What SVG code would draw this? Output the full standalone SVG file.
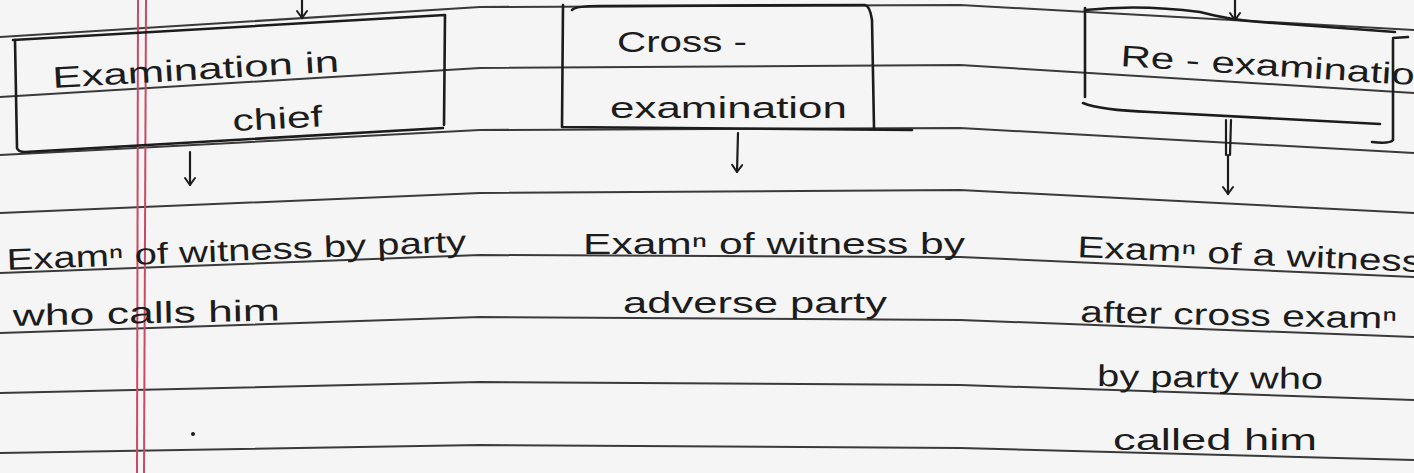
<svg xmlns="http://www.w3.org/2000/svg" width="1414" height="473" viewBox="0 0 1414 473">
<defs>
<marker id="ah" viewBox="0 0 12 12" refX="11" refY="6" markerWidth="12" markerHeight="12" markerUnits="userSpaceOnUse" orient="auto">
<path d="M4,1 L11,6 L4,11" fill="none" stroke="#1c1c1c" stroke-width="2" stroke-linecap="round" stroke-linejoin="round"/>
</marker>
<style>
.rule{fill:none;stroke:#3a3a3a;stroke-width:2}
.margin{fill:none;stroke:#c94a66;stroke-width:2}
.box{fill:none;stroke:#1c1c1c;stroke-width:2.6;stroke-linecap:round;stroke-linejoin:round}
.conn{fill:none;stroke:#1c1c1c;stroke-width:2.2;stroke-linecap:round}
.t{font-family:"Liberation Sans",Arial,sans-serif;fill:#1c1c1c;font-size:30px}
</style>
</defs>
<rect width="1414" height="473" fill="#f6f5f5"/>
<g id="paper">
<polyline class="rule" points="0,37 480,7 960,5 1414,30"/>
<polyline class="rule" points="0,97 480,68 960,65 1414,93"/>
<polyline class="rule" points="0,155 480,130 960,128 1414,153"/>
<polyline class="rule" points="0,213 480,193 960,190 1414,213"/>
<polyline class="rule" points="0,273 480,255 960,257 1414,277"/>
<polyline class="rule" points="0,333 480,317 960,320 1414,337"/>
<polyline class="rule" points="0,393 480,382 960,385 1414,400"/>
<polyline class="rule" points="0,453 480,445 960,448 1414,460"/>
<line class="margin" x1="138" y1="0" x2="137" y2="473"/>
<line class="margin" x1="146" y1="0" x2="144" y2="473"/>
</g>
<g id="node-chief">
<path class="box" d="M15,40 L17,148 Q18,152 25,152 L443,128"/>
<path class="box" d="M13,40 L445,15 L444,125"/>
<text class="t" x="53" y="88" textLength="287" lengthAdjust="spacingAndGlyphs" transform="rotate(-3.3 53 88)">Examination in</text>
<text class="t" x="233" y="131" textLength="90" lengthAdjust="spacingAndGlyphs" transform="rotate(-3 233 131)">chief</text>
</g>
<g id="node-cross">
<path class="box" d="M563,5 L562,127 L912,130"/>
<path class="box" d="M572,10 Q575,6 600,6 L865,5 Q870,6 872,20 L874,128"/>
<text class="t" x="617" y="52" textLength="130" lengthAdjust="spacingAndGlyphs">Cross -</text>
<text class="t" x="610" y="118" textLength="237" lengthAdjust="spacingAndGlyphs">examination</text>
</g>
<g id="node-reexam">
<path class="box" d="M1085,8 L1085,97"/>
<path class="box" d="M1085,10 Q1140,4 1200,12 Q1230,20 1260,22 L1395,32"/>
<path class="box" d="M1083,103 Q1100,110 1150,112 L1380,124"/>
<path class="box" d="M1393,38 L1408,37 M1393,40 L1393,140 Q1390,144 1372,142"/>
<text class="t" x="1120" y="66" textLength="318" lengthAdjust="spacingAndGlyphs" transform="rotate(3.7 1120 66)">Re - examination</text>
</g>
<g id="desc-chief">
<text class="t" x="7" y="270" textLength="460" lengthAdjust="spacingAndGlyphs" transform="rotate(-2.3 7 270)">Examⁿ of witness by party</text>
<text class="t" x="13" y="326" textLength="267" lengthAdjust="spacingAndGlyphs" transform="rotate(-1.2 13 326)">who calls him</text>
<circle cx="193" cy="434" r="2" fill="#1c1c1c"/>
</g>
<g id="desc-cross">
<text class="t" x="583" y="254" textLength="382" lengthAdjust="spacingAndGlyphs">Examⁿ of witness by</text>
<text class="t" x="623" y="313" textLength="264" lengthAdjust="spacingAndGlyphs">adverse party</text>
</g>
<g id="desc-reexam">
<text class="t" x="1077" y="257" textLength="345" lengthAdjust="spacingAndGlyphs" transform="rotate(2.5 1077 257)">Examⁿ of a witness</text>
<text class="t" x="1080" y="322" textLength="317" lengthAdjust="spacingAndGlyphs" transform="rotate(1.2 1080 322)">after cross examⁿ</text>
<text class="t" x="1097" y="386" textLength="226" lengthAdjust="spacingAndGlyphs" transform="rotate(0.8 1097 386)">by party who</text>
<text class="t" x="1113" y="450" textLength="204" lengthAdjust="spacingAndGlyphs">called him</text>
</g>
<g id="connectors">
<line class="conn" x1="302" y1="0" x2="302" y2="18" marker-end="url(#ah)"/>
<line class="conn" x1="1235" y1="0" x2="1235" y2="20" marker-end="url(#ah)"/>
<line class="conn" x1="190" y1="152" x2="190" y2="185" marker-end="url(#ah)"/>
<line class="conn" x1="738" y1="133" x2="737" y2="172" marker-end="url(#ah)"/>
<line class="conn" x1="1226" y1="120" x2="1226" y2="155"/>
<line class="conn" x1="1231" y1="120" x2="1230" y2="155"/>
<line class="conn" x1="1228" y1="155" x2="1228" y2="194" marker-end="url(#ah)"/>
</g>
</svg>
